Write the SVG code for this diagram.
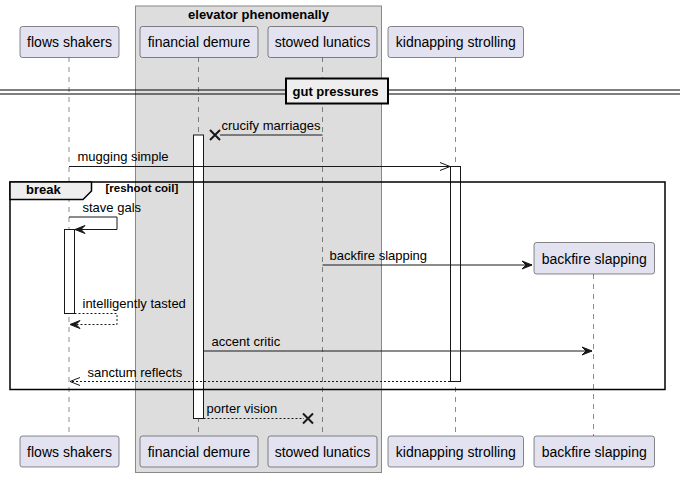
<svg xmlns="http://www.w3.org/2000/svg" width="680" height="477" viewBox="0 0 680 477">
<style>
text{font-family:"Liberation Sans",Arial,sans-serif;fill:#000}
.p rect{fill:#E2E2F0;stroke:#181818;stroke-width:0.5}
.p text{font-size:14px}
.life{stroke:#181818;stroke-width:0.5;stroke-dasharray:5,5;fill:none}
.act{fill:#fff;stroke:#181818;stroke-width:1}
.msg{stroke:#181818;stroke-width:1;fill:none}
.dash{stroke-dasharray:2,2}
.lbl{font-size:13px}
.b{font-weight:bold;font-size:13px}
.head{fill:#181818;stroke:#181818;stroke-width:1}
.open{fill:none;stroke:#181818;stroke-width:1}
.x{stroke:#181818;stroke-width:2;fill:none}
</style>
<rect width="680" height="477" fill="#fff"/>
<g id="group-elevator">
<rect x="135.5" y="6" width="246" height="466.5" fill="#DDDDDD" stroke="#888" stroke-width="1"/>
<text class="b" x="258.5" y="18.5" text-anchor="middle">elevator phenomenally</text>
</g>
<g id="lifelines">
<line class="life" x1="69" y1="57" x2="69" y2="436"/>
<line class="life" x1="198.5" y1="57" x2="198.5" y2="436"/>
<line class="life" x1="322.5" y1="57" x2="322.5" y2="436"/>
<line class="life" x1="455.5" y1="57" x2="455.5" y2="436"/>
<line class="life" x1="593.5" y1="274" x2="593.5" y2="436"/>
</g>
<g id="divider">
<line x1="0" y1="90" x2="680" y2="90" stroke="#000" stroke-width="1"/>
<line x1="0" y1="94" x2="680" y2="94" stroke="#000" stroke-width="1"/>
<rect x="286" y="78.5" width="102" height="25" fill="#EEEEEE" stroke="#000" stroke-width="2"/>
<text class="b" x="292.5" y="96">gut pressures</text>
</g>
<g id="activations">
<rect class="act" x="193.5" y="135" width="10" height="283.5"/>
<rect class="act" x="450.5" y="166.5" width="10" height="215"/>
<rect class="act" x="64.5" y="229.5" width="10" height="84"/>
</g>
<g id="break-frame">
<rect x="10" y="182" width="655" height="207.5" fill="none" stroke="#000" stroke-width="1.5"/>
<path d="M10,182 H91.5 V191 L83,199.5 H10 Z" fill="#EEEEEE" stroke="#000" stroke-width="1.5"/>
<text class="b" x="26" y="194">break</text>
<text x="105.5" y="192" font-weight="bold" font-size="11.5px">[reshoot coil]</text>
</g>
<g id="connectors">
<line class="msg" x1="322.5" y1="135" x2="220" y2="135"/>
<path class="x" d="M210,130 L220,140 M220,130 L210,140"/>
<text class="lbl" x="221.5" y="130">crucify marriages</text>

<line class="msg" x1="69" y1="166.5" x2="450" y2="166.5"/>
<path class="open" d="M440,162.5 L450,166.5 L440,170.5"/>
<text class="lbl" x="77.5" y="161">mugging simple</text>

<path class="msg" d="M69,217 H117 V229.5 H75"/>
<path class="head" d="M85,225.5 L75,229.5 L85,233.5 L81,229.5 Z"/>
<text class="lbl" x="82.5" y="211.5">stave gals</text>

<line class="msg" x1="322.5" y1="265" x2="532" y2="265"/>
<path class="head" d="M522,261 L532,265 L522,269 L526,265 Z"/>
<text class="lbl" x="329.5" y="260">backfire slapping</text>

<path class="msg dash" d="M74.5,313.5 H117 V324.5 H70"/>
<path class="head" d="M80,320.5 L70,324.5 L80,328.5 L76,324.5 Z"/>
<text class="lbl" x="82.5" y="308">intelligently tasted</text>

<line class="msg" x1="203.5" y1="351" x2="592" y2="351"/>
<path class="head" d="M582,347 L592,351 L582,355 L586,351 Z"/>
<text class="lbl" x="211.5" y="346">accent critic</text>

<line class="msg dash" x1="450" y1="381.5" x2="70" y2="381.5"/>
<path class="open" d="M80,377.5 L70,381.5 L80,385.5"/>
<text class="lbl" x="87.5" y="376.5">sanctum reflects</text>

<line class="msg dash" x1="203.5" y1="418.5" x2="304" y2="418.5"/>
<path class="x" d="M303,413.5 L313,423.5 M313,413.5 L303,423.5"/>
<text class="lbl" x="206.5" y="413">porter vision</text>
</g>
<g id="p-flows-shakers" class="p">
<rect x="20" y="26.5" width="99" height="31" rx="2.5"/>
<text x="69.5" y="47" text-anchor="middle">flows shakers</text>
<rect x="20" y="436" width="99" height="31" rx="2.5"/>
<text x="69.5" y="456.5" text-anchor="middle">flows shakers</text>
</g>
<g id="p-financial-demure" class="p">
<rect x="140" y="26.5" width="118" height="31" rx="2.5"/>
<text x="199" y="47" text-anchor="middle">financial demure</text>
<rect x="140" y="436" width="118" height="31" rx="2.5"/>
<text x="199" y="456.5" text-anchor="middle">financial demure</text>
</g>
<g id="p-stowed-lunatics" class="p">
<rect x="268" y="26.5" width="109" height="31" rx="2.5"/>
<text x="322.5" y="47" text-anchor="middle">stowed lunatics</text>
<rect x="268" y="436" width="109" height="31" rx="2.5"/>
<text x="322.5" y="456.5" text-anchor="middle">stowed lunatics</text>
</g>
<g id="p-kidnapping-strolling" class="p">
<rect x="388" y="26.5" width="135.5" height="31" rx="2.5"/>
<text x="455.8" y="47" text-anchor="middle">kidnapping strolling</text>
<rect x="388" y="436" width="135.5" height="31" rx="2.5"/>
<text x="455.8" y="456.5" text-anchor="middle">kidnapping strolling</text>
</g>
<g id="p-backfire-slapping" class="p">
<rect x="534" y="242.5" width="120.5" height="31.5" rx="2.5"/>
<text x="594.2" y="263.5" text-anchor="middle">backfire slapping</text>
<rect x="534" y="436" width="120.5" height="31" rx="2.5"/>
<text x="594.2" y="456.5" text-anchor="middle">backfire slapping</text>
</g>
</svg>
